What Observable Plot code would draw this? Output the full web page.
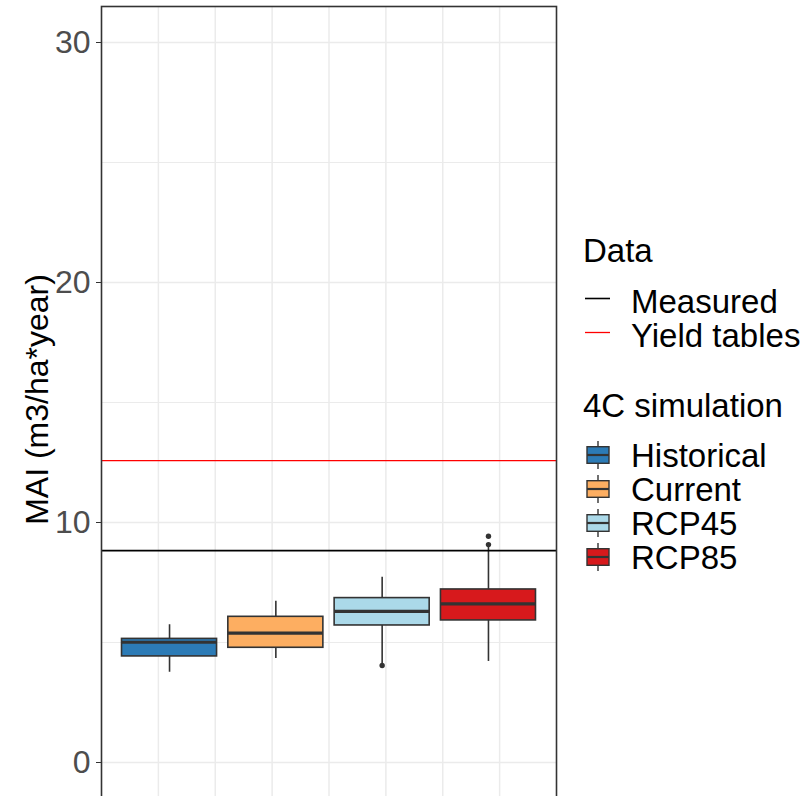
<!DOCTYPE html>
<html>
<head>
<meta charset="utf-8">
<script src="https://cdn.jsdelivr.net/npm/d3@7"></script>
<script src="https://cdn.jsdelivr.net/npm/@observablehq/plot@0.6"></script>
<style>
  html, body { margin: 0; padding: 0; background: white; overflow: hidden; }
  #wrap { position: relative; width: 810px; height: 796px; }
  #legend { position: absolute; left: 575px; top: 220px; }
  text { font-family: "Liberation Sans", Arial, sans-serif; }
</style>
</head>
<body>
<div id="wrap"><div id="chart"></div><svg id="legend" width="235" height="380"></svg></div>
<script>
// ---- data ----
const categories = ["Historical", "Current", "RCP45", "RCP85"];
const boxColors = ["#2C7BB6", "#FDAE61", "#ABD9E9", "#D7191C"];
const whiskerLow = [3.76, 4.33, 4.10, 4.21];
const q1 = [4.42, 4.78, 5.71, 5.92];
const median = [5.01, 5.39, 6.30, 6.61];
const q3 = [5.15, 6.07, 6.85, 7.21];
const whiskerHigh = [5.74, 6.72, 7.72, 9.02];
const outlierGroup = ["RCP45", "RCP85", "RCP85"];
const outlierValue = [4.04, 9.08, 9.43];
const refLabels = ["Measured", "Yield tables"];
const refValues = [8.83, 12.58];
const refColors = ["#000000", "#FF0000"];
const yTicks = [0, 10, 20, 30];
const yMinorTicks = [5, 15, 25];
const xGridBreaks = [-3, -2, -1, 0, 1, 2, 3];
const yTitle = "MAI (m3/ha*year)";
const legendTitles = ["Data", "4C simulation"];

// ---- dodge positions (ggplot-like) ----
const band = d3.scaleBand().domain(categories).range([-4, 4]).paddingInner(0.106).paddingOuter(0.193);
const boxes = categories.map((c, i) => ({
  group: c,
  x1: band(c), x2: band(c) + band.bandwidth(), xc: band(c) + band.bandwidth() / 2,
  lo: whiskerLow[i], q1: q1[i], med: median[i], q3: q3[i], hi: whiskerHigh[i]
}));
const outliers = outlierGroup.map((g, i) => ({group: g, xc: band(g) + band.bandwidth() / 2, value: outlierValue[i]}));

const ink = "#333333";
const chart = Plot.plot({
  width: 810,
  height: 798,
  marginLeft: 101,
  marginRight: 254,
  marginTop: 6,
  marginBottom: 0,
  style: {fontFamily: "'Liberation Sans', Arial, sans-serif", fontSize: "32px", background: "white", overflow: "visible"},
  x: {domain: [-4, 4], axis: null},
  y: {domain: [-1.5, 31.5], axis: null},
  color: {type: "ordinal", domain: categories, range: boxColors},
  marks: [
    Plot.ruleY(yMinorTicks, {stroke: "#EBEBEB", strokeWidth: 1.2}),
    Plot.ruleY(yTicks, {stroke: "#EBEBEB", strokeWidth: 1.5}),
    Plot.ruleX(xGridBreaks, {stroke: "#EBEBEB", strokeWidth: 1.5}),
    Plot.ruleX(boxes, {x: "xc", y1: "lo", y2: "hi", stroke: ink, strokeWidth: 1.6}),
    Plot.rect(boxes, {x1: "x1", x2: "x2", y1: "q1", y2: "q3", fill: "group", stroke: ink, strokeWidth: 1.6}),
    Plot.ruleY(boxes, {y: "med", x1: "x1", x2: "x2", stroke: ink, strokeWidth: 3.2}),
    Plot.dot(outliers, {x: "xc", y: "value", r: 2.7, fill: ink, stroke: null}),
    Plot.ruleY([refValues[0]], {stroke: refColors[0], strokeWidth: 1.6}),
    Plot.ruleY([refValues[1]], {stroke: refColors[1], strokeWidth: 1.3}),
    Plot.frame({stroke: ink, strokeWidth: 1.6}),
    Plot.axisY(yTicks, {tickSize: 5, tickFormat: () => "", color: ink, label: null}),
    Plot.text(yTicks, {y: (d) => d, frameAnchor: "left", dx: -11, textAnchor: "end", lineAnchor: "middle", fontSize: 32, fill: "#4D4D4D", text: (d) => String(d)}),
    Plot.text([yTitle], {frameAnchor: "left", rotate: -90, dx: -54, dy: -3, lineAnchor: "bottom", textAnchor: "middle", fontSize: 32, fill: "black"})
  ]
});
document.getElementById("chart").appendChild(chart);

// ---- legend ----
const leg = d3.select("#legend");
const fs = 33;
leg.append("text").attr("x", 8).attr("y", 42).attr("font-size", fs).attr("fill", "black").text(legendTitles[0]);
refLabels.forEach((lab, i) => {
  const cy = 78.5 + i * 34;
  leg.append("line").attr("x1", 10).attr("x2", 35).attr("y1", cy).attr("y2", cy)
    .attr("stroke", refColors[i]).attr("stroke-width", i === 0 ? 1.6 : 1.3);
  leg.append("text").attr("x", 56).attr("y", cy + 14.5).attr("font-size", fs).attr("fill", "black").text(lab);
});
leg.append("text").attr("x", 8).attr("y", 197).attr("font-size", fs).attr("fill", "black").text(legendTitles[1]);
categories.forEach((c, i) => {
  const cy = 235 + i * 34;
  leg.append("line").attr("x1", 23).attr("x2", 23).attr("y1", cy - 14).attr("y2", cy + 14).attr("stroke", ink).attr("stroke-width", 1.4);
  leg.append("rect").attr("x", 12).attr("y", cy - 8.3).attr("width", 22).attr("height", 16.6)
    .attr("fill", boxColors[i]).attr("stroke", ink).attr("stroke-width", 1.4);
  leg.append("line").attr("x1", 12).attr("x2", 34).attr("y1", cy).attr("y2", cy).attr("stroke", ink).attr("stroke-width", 2.2);
  leg.append("text").attr("x", 56).attr("y", cy + 12).attr("font-size", fs).attr("fill", "black").text(c);
});
</script>
</body>
</html>
